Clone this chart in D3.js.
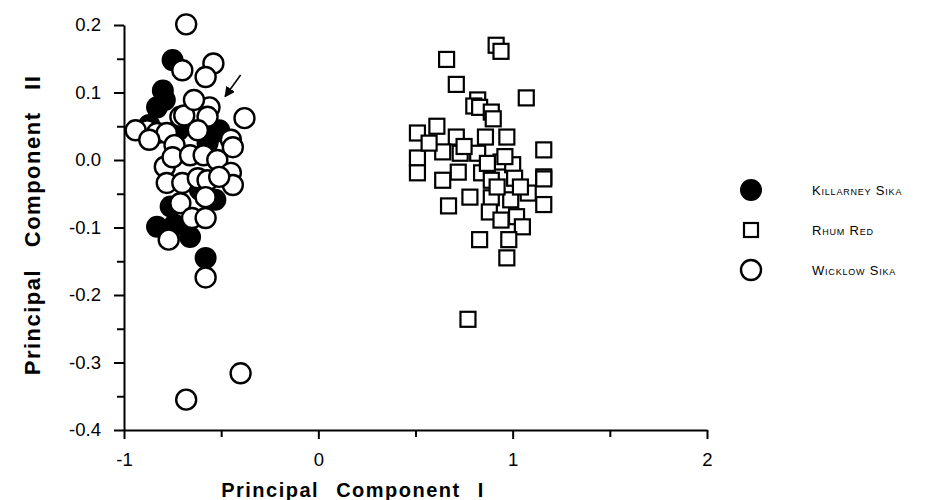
<!DOCTYPE html>
<html>
<head>
<meta charset="utf-8">
<script src="https://cdn.jsdelivr.net/npm/d3@7"></script>
<style>
  body { margin: 0; background: #fff; }
  svg { display: block; }
</style>
</head>
<body>
<div id="chart"></div>
<script>
// Principal component scores
const killarneyPC1 = [-0.75, -0.80, -0.79, -0.83, -0.87, -0.72, -0.54, -0.51, -0.57, -0.61, -0.53, -0.76, -0.74, -0.83, -0.66, -0.58];
const killarneyPC2 = [0.148, 0.103, 0.089, 0.078, 0.052, 0.044, 0.040, 0.044, 0.025, -0.044, -0.059, -0.069, -0.096, -0.099, -0.114, -0.145];

const rhumPC1 = [0.915, 0.94, 0.66, 0.71, 1.07, 0.82, 0.80, 0.83, 0.89, 0.90, 0.51, 0.61, 0.71, 0.86, 0.97, 1.16,
  0.51, 0.64, 0.73, 0.82, 0.94, 1.00, 0.51, 0.72, 0.84, 1.16, 0.64, 0.89, 1.01, 1.16, 0.78, 0.67, 0.89, 0.99,
  1.08, 1.16, 0.88, 0.94, 1.02, 1.05, 0.83, 0.98, 0.97, 0.77, 0.75, 0.87, 0.92, 1.04, 0.57, 0.96];
const rhumPC2 = [0.170, 0.161, 0.149, 0.112, 0.092, 0.089, 0.080, 0.078, 0.071, 0.061, 0.040, 0.050, 0.034, 0.034, 0.034, 0.015,
  0.003, 0.012, 0.010, 0.010, -0.003, -0.007, -0.019, -0.018, -0.019, -0.025, -0.030, -0.030, -0.027, -0.028, -0.055, -0.068, -0.056, -0.059,
  -0.049, -0.066, -0.077, -0.089, -0.084, -0.099, -0.118, -0.118, -0.145, -0.236, 0.020, -0.005, -0.040, -0.040, 0.025, 0.005];

const wicklowPC1 = [-0.68, -0.70, -0.54, -0.58, -0.56, -0.57, -0.71, -0.38, -0.62, -0.45, -0.88, -0.83, -0.78, -0.94, -0.69, -0.64,
  -0.87, -0.74, -0.44, -0.79, -0.75, -0.66, -0.59, -0.52, -0.45, -0.44, -0.78, -0.70, -0.62, -0.57, -0.51, -0.71,
  -0.58, -0.65, -0.58, -0.77, -0.58, -0.40, -0.68];
const wicklowPC2 = [0.201, 0.133, 0.143, 0.123, 0.078, 0.064, 0.064, 0.062, 0.044, 0.030, 0.044, 0.040, 0.040, 0.044, 0.066, 0.089,
  0.030, 0.022, 0.019, -0.010, 0.004, 0.007, 0.007, 0.000, -0.019, -0.037, -0.034, -0.034, -0.027, -0.030, -0.025, -0.064,
  -0.055, -0.086, -0.086, -0.118, -0.174, -0.316, -0.355];

const xTicks = [-1, 0, 1, 2];
const xMinor = [-0.5, 0.5, 1.5];
const yTicks = [-0.4, -0.3, -0.2, -0.1, 0.0, 0.1, 0.2];
const yMinor = [-0.35, -0.25, -0.15, -0.05, 0.05, 0.15];
const legendNames = ['Killarney Sika', 'Rhum Red', 'Wicklow Sika'];

// annotation arrow (data coords): tail then tip
const arrowPC1 = [-0.40, -0.48];
const arrowPC2 = [0.126, 0.094];

const width = 938, height = 500;
const x = d3.scaleLinear().domain([-1, 2]).range([124, 707]);
const y = d3.scaleLinear().domain([-0.4, 0.2]).range([430, 25]);

const svg = d3.select('#chart').append('svg')
  .attr('width', width)
  .attr('height', height)
  .style('font-family', '"Liberation Sans", Arial, sans-serif');

svg.append('defs').append('marker')
  .attr('id', 'head')
  .attr('viewBox', '0 0 10 10')
  .attr('refX', 9).attr('refY', 5)
  .attr('markerWidth', 7).attr('markerHeight', 7)
  .attr('orient', 'auto')
  .append('path')
  .attr('d', 'M0,0L10,5L0,10z')
  .attr('fill', '#000');

// axes
const xAxis = svg.append('g')
  .attr('transform', `translate(0,${y(-0.4)})`)
  .call(d3.axisBottom(x).tickValues(xTicks).tickSize(9).tickSizeOuter(0).tickPadding(14).tickFormat(d => String(d)));

const xMinorG = svg.append('g')
  .attr('transform', `translate(0,${y(-0.4)})`)
  .call(d3.axisBottom(x).tickValues(xMinor).tickSize(7).tickFormat(''));
xMinorG.select('.domain').remove();

const yAxis = svg.append('g')
  .attr('transform', `translate(${x(-1)},0)`)
  .call(d3.axisLeft(y).tickValues(yTicks).tickSize(10).tickSizeOuter(0).tickPadding(13).tickFormat(d => d.toFixed(1)));

const yMinorG = svg.append('g')
  .attr('transform', `translate(${x(-1)},0)`)
  .call(d3.axisLeft(y).tickValues(yMinor).tickSize(7).tickFormat(''));
yMinorG.select('.domain').remove();

svg.selectAll('.domain, .tick line')
  .attr('stroke', '#000')
  .attr('stroke-width', 2);
svg.selectAll('.tick text')
  .attr('font-size', 18.5)
  .attr('font-family', '"Liberation Sans", Arial, sans-serif')
  .attr('fill', '#000');

// axis titles
svg.append('text')
  .attr('x', 353).attr('y', 497)
  .attr('text-anchor', 'middle')
  .attr('font-size', 20).attr('font-weight', 'bold')
  .style('letter-spacing', '1.5px')
  .style('word-spacing', '10px')
  .text('Principal Component I');

svg.append('text')
  .attr('transform', `translate(40,${225}) rotate(-90)`)
  .attr('text-anchor', 'middle')
  .attr('font-size', 22).attr('font-weight', 'bold')
  .style('letter-spacing', '1.5px')
  .style('word-spacing', '14px')
  .text('Principal Component II');

// points
const killarney = killarneyPC1.map((v, i) => ({ pc1: v, pc2: killarneyPC2[i] }));
const rhum = rhumPC1.map((v, i) => ({ pc1: v, pc2: rhumPC2[i] }));
const wicklow = wicklowPC1.map((v, i) => ({ pc1: v, pc2: wicklowPC2[i] }));

const r = 10, sq = 15;

svg.append('g').selectAll('rect')
  .data(rhum)
  .join('rect')
  .attr('x', d => x(d.pc1) - sq / 2)
  .attr('y', d => y(d.pc2) - sq / 2)
  .attr('width', sq).attr('height', sq)
  .attr('fill', '#fff')
  .attr('stroke', '#000')
  .attr('stroke-width', 2.2);

svg.append('g').selectAll('circle')
  .data(killarney)
  .join('circle')
  .attr('cx', d => x(d.pc1))
  .attr('cy', d => y(d.pc2))
  .attr('r', r + 1)
  .attr('fill', '#000');

svg.append('g').selectAll('circle')
  .data(wicklow)
  .join('circle')
  .attr('cx', d => x(d.pc1))
  .attr('cy', d => y(d.pc2))
  .attr('r', r)
  .attr('fill', '#fff')
  .attr('stroke', '#000')
  .attr('stroke-width', 2.4);

svg.append('line')
  .attr('x1', x(arrowPC1[0])).attr('y1', y(arrowPC2[0]))
  .attr('x2', x(arrowPC1[1])).attr('y2', y(arrowPC2[1]))
  .attr('stroke', '#000')
  .attr('stroke-width', 1.5)
  .attr('marker-end', 'url(#head)');

// legend
const legend = svg.append('g');
const ly = d3.scalePoint().domain(legendNames).range([190, 270]);

legend.append('circle')
  .attr('cx', 751).attr('cy', ly(legendNames[0])).attr('r', 11).attr('fill', '#000');
legend.append('rect')
  .attr('x', 751 - 7).attr('y', ly(legendNames[1]) - 7)
  .attr('width', 14).attr('height', 14)
  .attr('fill', '#fff').attr('stroke', '#000').attr('stroke-width', 2.2);
legend.append('circle')
  .attr('cx', 751).attr('cy', ly(legendNames[2])).attr('r', 10)
  .attr('fill', '#fff').attr('stroke', '#000').attr('stroke-width', 2.4);

legend.selectAll('text')
  .data(legendNames)
  .join('text')
  .attr('x', 812)
  .attr('y', d => ly(d) + 5)
  .attr('font-size', 13)
  .style('font-variant', 'small-caps')
  .style('letter-spacing', '0.8px')
  .text(d => d);
</script>
</body>
</html>
